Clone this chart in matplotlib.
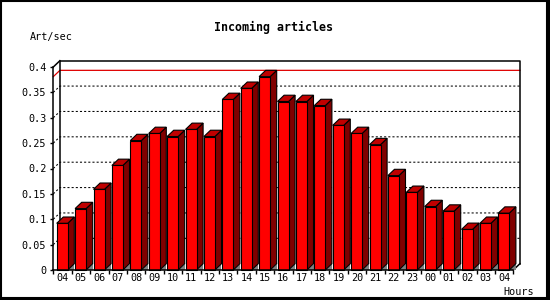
import matplotlib
matplotlib.use('Agg')
import matplotlib.pyplot as plt
from matplotlib.patches import Polygon, Rectangle
from matplotlib.lines import Line2D

hours = ['04', '05', '06', '07', '08', '09', '10', '11', '12', '13', '14', '15', '16',
         '17', '18', '19', '20', '21', '22', '23', '00', '01', '02', '03', '04']
rates = [0.092, 0.121, 0.159, 0.206, 0.255, 0.269, 0.263, 0.277, 0.263, 0.336, 0.358, 0.381, 0.332,
         0.332, 0.324, 0.285, 0.269, 0.247, 0.186, 0.153, 0.125, 0.116, 0.080, 0.092, 0.112]
yticks = [0, 0.05, 0.1, 0.15, 0.2, 0.25, 0.3, 0.35, 0.4]
ytick_labels = ['0', '0.05', '0.1', '0.15', '0.2', '0.25', '0.3', '0.35', '0.4']

FONT = 'DejaVu Sans Mono'
W, H = 550, 300


def main():
    fig = plt.figure(figsize=(W / 100, H / 100), dpi=100)
    fig.patch.set_facecolor('white')
    ax = fig.add_axes([53.3 / W, 30 / H, 460 / W, 203 / H])
    n = len(rates)
    ymax = 0.4
    ax.set_xlim(0, n)
    ax.set_ylim(0, ymax)
    ax.patch.set_visible(False)

    # depth of the fake 3d box, in data units
    dx = 6.6 / 18.4
    dy = 6.3 / 507.5

    # back wall outline
    ax.add_line(Line2D([dx, dx, n + dx, n + dx], [dy, ymax + dy, ymax + dy, dy],
                       color='black', lw=1.1, clip_on=False, zorder=2))
    ax.add_line(Line2D([0, dx], [ymax, ymax + dy], color='black', lw=1.1, clip_on=False, zorder=2))
    ax.add_line(Line2D([n, n + dx], [0, dy], color='black', lw=1.1, clip_on=False, zorder=2))

    # grid on the back wall
    for y in yticks[1:-1]:
        ax.add_line(Line2D([0, dx, n + dx], [y, y + dy, y + dy], color='black', lw=0.75,
                           linestyle=(0, (2, 2)), clip_on=False, zorder=1))

    # max line
    m = max(rates)
    ax.add_line(Line2D([0, dx, n + dx], [m, m + dy, m + dy], color='#e00000', lw=0.9,
                       clip_on=False, zorder=1.5))

    # bars
    w = 11 / 18.4
    off = 3.4 / 18.4
    for i, v in enumerate(rates):
        x0 = i + off
        x1 = x0 + w
        ax.add_patch(Polygon([(x1, 0), (x1 + dx, 0), (x1 + dx, dy)], closed=True,
                             facecolor='#808080', edgecolor='none', zorder=3, clip_on=False))
        ax.add_patch(Polygon([(x1, 0), (x1 + dx, dy), (x1 + dx, v + dy), (x1, v)], closed=True,
                             facecolor='#800000', edgecolor='black', lw=0.8, zorder=4, clip_on=False))
        ax.add_patch(Polygon([(x0, v), (x0 + dx, v + dy), (x1 + dx, v + dy), (x1, v)], closed=True,
                             facecolor='#c00000', edgecolor='black', lw=0.8, zorder=4, clip_on=False))
        ax.add_patch(Rectangle((x0, 0), w, v, facecolor='#ff0000', edgecolor='black',
                               lw=0.8, zorder=5, clip_on=False))

    for side in ['top', 'right']:
        ax.spines[side].set_visible(False)
    for side in ['left', 'bottom']:
        ax.spines[side].set_linewidth(1.1)
        ax.spines[side].set_zorder(6)

    ax.set_yticks(yticks)
    ax.set_yticklabels(ytick_labels, fontfamily=FONT, fontsize=7.3)
    ax.tick_params(axis='y', direction='out', length=2.5, width=1, pad=2.5)
    ax.set_xticks(range(n + 1))
    ax.set_xticklabels([])
    ax.tick_params(axis='x', which='major', direction='out', length=3, width=1)
    ax.set_xticks([i + 0.5 for i in range(n)], minor=True)
    ax.set_xticklabels(hours, minor=True, fontfamily=FONT, fontsize=7.3)
    ax.tick_params(axis='x', which='minor', length=0, pad=2.5)

    fig.text(273 / W, 1 - 27 / H, 'Incoming articles', ha='center', va='center',
             fontfamily=FONT, fontweight='bold', fontsize=8.4)
    fig.text(30 / W, 1 - 37 / H, 'Art/sec', ha='left', va='center', fontfamily=FONT, fontsize=7.3)
    fig.text(534 / W, 1 - 292 / H, 'Hours', ha='right', va='center', fontfamily=FONT, fontsize=7.3)

    # outer frame
    fig.add_artist(Rectangle((1 / W, 2 / H), 545.5 / W, 297 / H, transform=fig.transFigure,
                             fill=False, edgecolor='black', lw=1.5))
    fig.add_artist(Line2D([548 / W, 548 / W], [0, 1], transform=fig.transFigure, color='black', lw=2.5))
    fig.add_artist(Line2D([0, 1], [1 / H, 1 / H], transform=fig.transFigure, color='black', lw=2.5))

    fig.savefig('out.png', dpi=100)


if __name__ == '__main__':
    main()
